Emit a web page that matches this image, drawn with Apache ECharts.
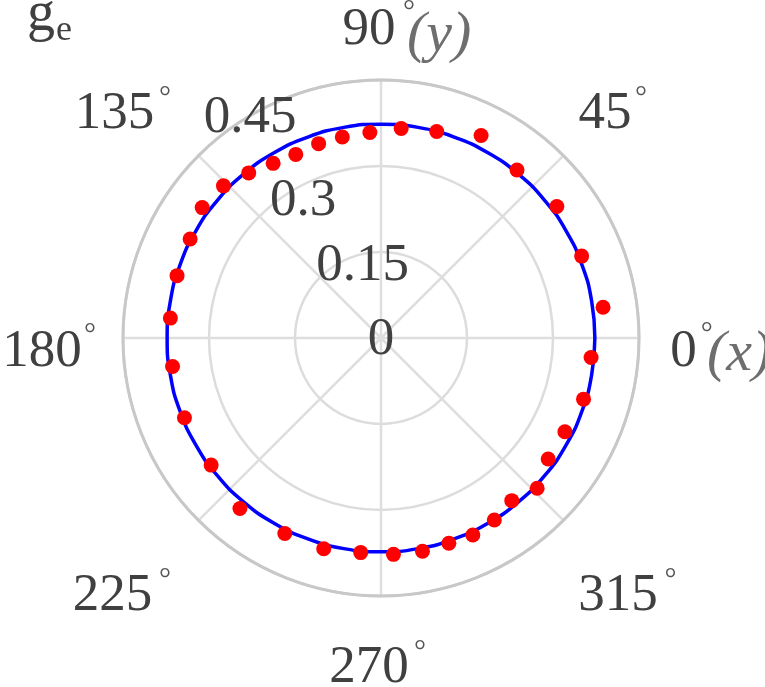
<!DOCTYPE html>
<html>
<head>
<meta charset="utf-8">
<script src="https://cdn.jsdelivr.net/npm/echarts@6/dist/echarts.min.js"></script>
<style>
html,body{margin:0;padding:0;background:#fff;}
#chart{width:765px;height:687px;}
</style>
</head>
<body>
<div id="chart"></div>
<script>
// ---- data ----
const angleTicks = [0, 45, 90, 135, 180, 225, 270, 315];
const angleTickLabels = ['0', '45', '90', '135', '180', '225', '270', '315'];
const axisSuffix = { 0: '(x)', 90: '(y)' };
const radialTicks = [0, 0.15, 0.3, 0.45];
const radialTickLabels = ['0', '0.15', '0.3', '0.45'];

// measured g_e (red dots): angle in degrees, value
const dotAngles = [7.9, 22.2, 36.8, 51.0, 63.7, 74.9, 84.5, 93.1, 100.9, 107.8, 114.9, 121.7,
  128.7, 136.0, 143.9, 152.6, 163.0, 174.6, 187.8, 202.1, 216.8, 230.4, 243.8, 254.8,
  264.6, 273.3, 281.0, 288.3, 295.0, 301.9, 308.8, 316.1, 324.1, 333.0, 343.2, 354.7];
const dotValues = [0.391, 0.378, 0.383, 0.377, 0.394, 0.373, 0.367, 0.359, 0.357, 0.356, 0.353, 0.358,
  0.369, 0.382, 0.386, 0.375, 0.372, 0.369, 0.367, 0.370, 0.370, 0.386, 0.380, 0.381,
  0.376, 0.378, 0.379, 0.377, 0.379, 0.374, 0.364, 0.378, 0.360, 0.360, 0.369, 0.368];

// model curve (blue): constant g_e sampled at these angles
const modelValue = 0.373;
const modelAngles = [0, 10, 20, 30, 40, 50, 60, 70, 80, 90, 100, 110, 120, 130, 140, 150, 160, 170, 180,
  190, 200, 210, 220, 230, 240, 250, 260, 270, 280, 290, 300, 310, 320, 330, 340, 350, 360];

const titleMain = 'g';
const titleSub = 'e';

// ---- layout (positions / styles) ----
const C = [381, 338], R = 258;
const serif = 'Liberation Serif';
const txtColor = '#404040';
const angleLabelPos = {
  0: { x: 683.5, y: 352.5, dx: 706.7, dy: 334, sx: 707, sy: 355 },
  45: { x: 605, y: 114.5, dx: 641, dy: 98 },
  90: { x: 369, y: 30, dx: 409, dy: 12, sx: 407, sy: 36 },
  135: { x: 114.5, y: 114.5, dx: 165, dy: 98 },
  180: { x: 42, y: 352, dx: 90, dy: 335 },
  225: { x: 112.5, y: 596, dx: 165, dy: 580 },
  270: { x: 369, y: 668.5, dx: 420, dy: 652 },
  315: { x: 618, y: 596, dx: 670.6, dy: 580 }
};
const radialLabelPos = [[381, 340.5], [362.5, 266.5], [303, 201], [250, 118]];

function txt(text, x, y, size, opts) {
  return {
    type: 'text', z: 10,
    style: Object.assign({
      text: text, x: x, y: y, fontSize: size, fontFamily: serif,
      fill: txtColor, align: 'center', verticalAlign: 'middle'
    }, opts || {})
  };
}

const chart = echarts.init(document.getElementById('chart'), null, { renderer: 'canvas' });

const graphics = [];
angleTicks.forEach((a, i) => {
  const p = angleLabelPos[a];
  graphics.push(txt(angleTickLabels[i], p.x, p.y, 53));
  graphics.push(txt('\u00B0', p.dx, p.dy, 30, { fill: '#555555' }));
  if (axisSuffix[a]) {
    graphics.push(txt(axisSuffix[a], p.sx, p.sy, 58, { fontStyle: 'italic', fill: '#6e6e6e', align: 'left' }));
  }
});
radialTicks.forEach((v, i) => {
  const p = radialLabelPos[i];
  graphics.push(txt(radialTickLabels[i], p[0], p[1], 53));
});
graphics.push(txt(titleMain, 27, 15, 56, { align: 'left' }));
graphics.push(txt(titleSub, 56, 31, 36, { align: 'left' }));

chart.setOption({
  animation: false,
  backgroundColor: '#ffffff',
  polar: { center: C, radius: R },
  angleAxis: {
    type: 'value', min: 0, max: 360, interval: 45, startAngle: 0, clockwise: false,
    axisLine: { show: true, lineStyle: { color: '#c8c8c8', width: 3 } },
    axisTick: { show: false },
    axisLabel: { show: false },
    splitLine: { show: true, lineStyle: { color: '#dedede', width: 2.5 } }
  },
  radiusAxis: {
    type: 'value', min: radialTicks[0], max: radialTicks[radialTicks.length - 1], interval: 0.15,
    axisLine: { show: false }, axisTick: { show: false }, axisLabel: { show: false },
    splitLine: { show: true, lineStyle: { color: ['#dcdcdc', '#dcdcdc', '#dcdcdc', '#c8c8c8'], width: 2.5 } }
  },
  series: [
    {
      type: 'line', coordinateSystem: 'polar', smooth: true, symbol: 'none',
      lineStyle: { color: '#0000ff', width: 3.5 },
      data: modelAngles.map(a => [modelValue, a]), z: 3
    },
    {
      type: 'scatter', coordinateSystem: 'polar', symbol: 'circle', symbolSize: 15,
      itemStyle: { color: '#ff0000', opacity: 1 },
      data: dotAngles.map((a, i) => [dotValues[i], a]), z: 4
    }
  ],
  graphic: graphics
});
</script>
</body>
</html>
